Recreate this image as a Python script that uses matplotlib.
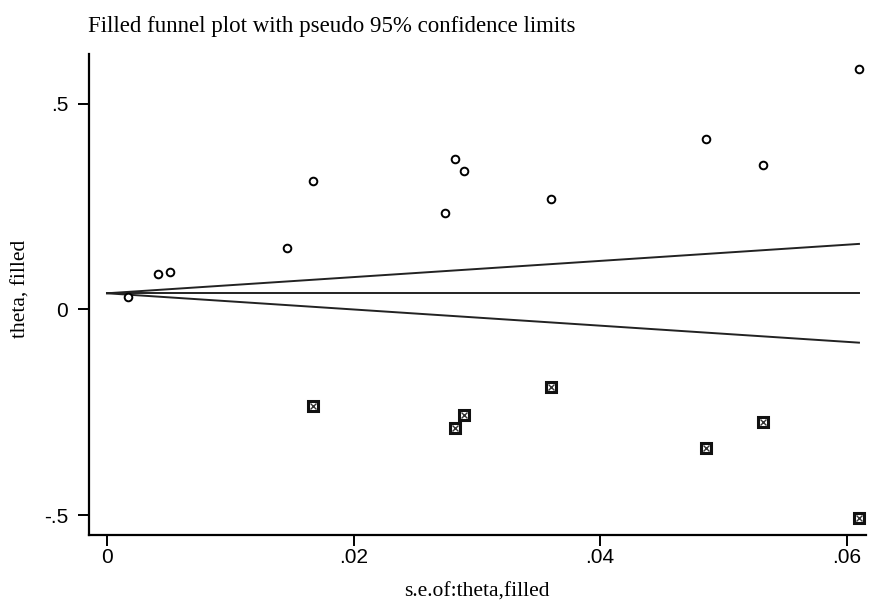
import matplotlib
matplotlib.use("Agg")
import matplotlib.pyplot as plt

# observed studies (hollow circles)
obs_se = [0.0017, 0.0041, 0.0051, 0.0146, 0.0167, 0.0274, 0.0282, 0.0290, 0.0360, 0.0486, 0.0532, 0.0610]
obs_theta = [0.030, 0.087, 0.091, 0.149, 0.311, 0.235, 0.366, 0.335, 0.267, 0.413, 0.350, 0.585]

# imputed (filled) studies
fill_se = [0.0167, 0.0282, 0.0290, 0.0360, 0.0486, 0.0532, 0.0610]
fill_theta = [-0.235, -0.289, -0.257, -0.189, -0.336, -0.274, -0.507]

# pooled estimate and pseudo 95% limits (end points)
limit_se = [0.0, 0.0610]
center = [0.039, 0.039]
upper = [0.039, 0.159]
lower = [0.039, -0.081]

xticks = [0, 0.02, 0.04, 0.06]
xtick_labels = ["0", ".02", ".04", ".06"]
yticks = [-0.5, 0, 0.5]
ytick_labels = ["-.5", "0", ".5"]

fig = plt.figure(figsize=(8.69, 6.04), dpi=100)
ax = fig.add_axes([0.1024, 0.1142, 0.894, 0.797])

ax.plot(limit_se, center, color="#222222", lw=1.4, zorder=2)
ax.plot(limit_se, upper, color="#222222", lw=1.4, zorder=2)
ax.plot(limit_se, lower, color="#222222", lw=1.4, zorder=2)

ax.plot(obs_se, obs_theta, linestyle="none", marker="o", markersize=5.5,
        markerfacecolor="white", markeredgecolor="black", markeredgewidth=1.4, zorder=3)
ax.plot(fill_se, fill_theta, linestyle="none", marker="s", markersize=7.5,
        markerfacecolor="white", markeredgecolor="#111111", markeredgewidth=2.2, zorder=3)
ax.plot(fill_se, fill_theta, linestyle="none", marker="x", markersize=4,
        markeredgecolor="#333333", markeredgewidth=1.0, zorder=4)

ax.set_xlim(-0.00146, 0.06156)
ax.set_ylim(-0.5485, 0.6214)

for s in ["top", "right"]:
    ax.spines[s].set_visible(False)
for s in ["left", "bottom"]:
    ax.spines[s].set_linewidth(1.6)
    ax.spines[s].set_color("black")

ax.set_xticks(xticks)
ax.set_xticklabels(xtick_labels, fontfamily="Liberation Sans", fontsize=15)
ax.set_yticks(yticks)
ax.set_yticklabels(ytick_labels, fontfamily="Liberation Sans", fontsize=15)
ax.tick_params(direction="out", length=8, width=1.4)
ax.tick_params(axis="x", pad=1.5)
ax.tick_params(axis="y", pad=7)

ax.set_xlabel("s.e.of:theta,filled", fontfamily="Liberation Serif", fontsize=15.5, va="center")
ax.xaxis.set_label_coords(0.4994, -0.1175)
ax.set_ylabel("theta, filled", fontfamily="Liberation Serif", fontsize=15.5, va="center")
ax.yaxis.set_label_coords(-0.0875, 0.511)

fig.text(88 / 869, 1 - 32 / 604, "Filled funnel plot with pseudo 95% confidence limits",
         fontfamily="Liberation Serif", fontsize=16.5, ha="left", va="baseline")

fig.savefig("out.png", dpi=100)
